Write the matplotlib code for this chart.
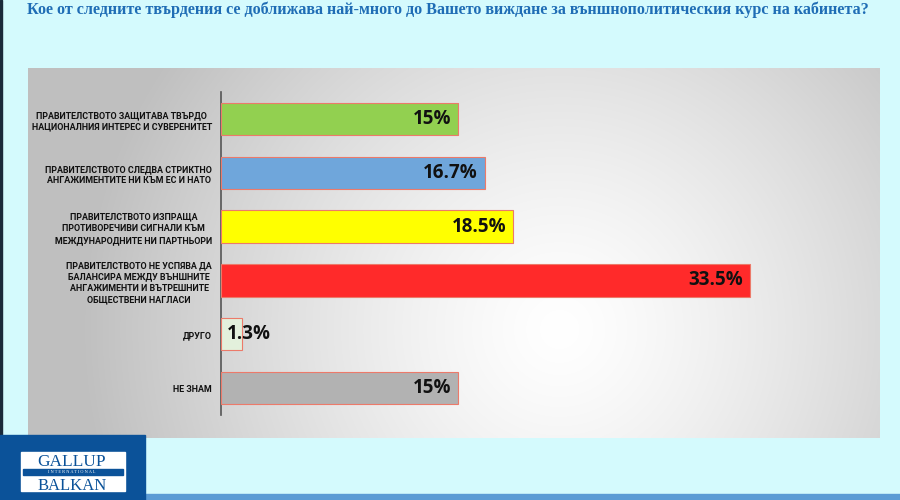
import numpy as np
import matplotlib
matplotlib.use("Agg")
import matplotlib.pyplot as plt
from matplotlib.patches import Rectangle

title = "Кое от следните твърдения се доближава най-много до Вашето виждане за външнополитическия курс на кабинета?"
categories = [
    "ПРАВИТЕЛСТВОТО ЗАЩИТАВА ТВЪРДО\nНАЦИОНАЛНИЯ ИНТЕРЕС И СУВЕРЕНИТЕТ",
    "ПРАВИТЕЛСТВОТО СЛЕДВА СТРИКТНО\nАНГАЖИМЕНТИТЕ НИ КЪМ ЕС И НАТО",
    "ПРАВИТЕЛСТВОТО ИЗПРАЩА\nПРОТИВОРЕЧИВИ СИГНАЛИ КЪМ\nМЕЖДУНАРОДНИТЕ НИ ПАРТНЬОРИ",
    "ПРАВИТЕЛСТВОТО НЕ УСПЯВА ДА\nБАЛАНСИРА МЕЖДУ ВЪНШНИТЕ\nАНГАЖИМЕНТИ И ВЪТРЕШНИТЕ\nОБЩЕСТВЕНИ НАГЛАСИ",
    "ДРУГО",
    "НЕ ЗНАМ",
]
values = [15, 16.7, 18.5, 33.5, 1.3, 15]
value_labels = ["15%", "16.7%", "18.5%", "33.5%", "1.3%", "15%"]
colors = ["#92d050", "#6fa6db", "#ffff00", "#ff2a2a", "#e3f0dc", "#b2b2b2"]

W, H = 900, 500
fig = plt.figure(figsize=(9, 5), dpi=100)
fig.patch.set_facecolor("#d4fafd")

# left dark border
fig.add_artist(Rectangle((0, 0), 2 / W, 1, transform=fig.transFigure, color="#1a2a3a", zorder=5))

# gradient panel
px0, py0, px1, py1 = 28, 68, 880, 438
bg = fig.add_axes([px0 / W, 1 - py1 / H, (px1 - px0) / W, (py1 - py0) / H])
nx, ny = 400, 180
xx, yy = np.meshgrid(np.linspace(px0, px1, nx), np.linspace(py0, py1, ny))
d = np.sqrt((xx - 560) ** 2 + (yy - 330) ** 2)
g = 1 - 0.25 * np.clip(d / 480, 0, 1) ** 1.3
img = np.dstack([g, g, g])
bg.imshow(img, aspect="auto", extent=[0, 1, 0, 1], interpolation="bilinear")
bg.set_axis_off()

# main axes
ax = fig.add_axes([221 / W, 1 - 415 / H, (853 - 221) / W, (415 - 92) / H])
ax.set_facecolor("none")
y = np.arange(len(categories))
ax.barh(y, values, height=0.6, color=colors, edgecolor="#ec7a6a", linewidth=0.8, zorder=3)
ax.set_xlim(0, 40)
ax.set_ylim(len(categories) - 0.5, -0.5)
ax.set_yticks(y)
ax.set_yticklabels(categories, fontsize=6.4, fontweight="bold", family="Roboto",
                   multialignment="center", color="#111111", linespacing=1.35)
ax.tick_params(axis="y", length=0, pad=6.5)
ax.set_xticks([])
for s in ["top", "right", "bottom"]:
    ax.spines[s].set_visible(False)
ax.spines["left"].set_color("#555555")
ax.spines["left"].set_linewidth(1.2)

for yi, v, lab in zip(y, values, value_labels):
    if v < 5:
        ax.text(0.4, yi, lab, ha="left", va="center", fontsize=13.5, fontweight="bold",
                family="Open Sans", color="#111111", zorder=4)
    else:
        ax.text(v - 0.45, yi, lab, ha="right", va="center", fontsize=13.5, fontweight="bold",
                family="Open Sans", color="#111111", zorder=4)

# title
fig.text(27 / W, 1 - 10 / H, title, ha="left", va="center", fontsize=11.6, fontweight="bold",
         family="Liberation Serif", color="#1f6db5")

# bottom strip
fig.add_artist(Rectangle((145 / W, 0), 1, 6 / H, transform=fig.transFigure, color="#5b9bd5", zorder=5))
# logo block
fig.add_artist(Rectangle((0, 0), 145 / W, 65 / H, transform=fig.transFigure, color="#0b5299", zorder=5))
fig.add_artist(Rectangle((21 / W, 1 - 491 / H), 104 / W, 39 / H, transform=fig.transFigure,
                         color="white", zorder=6))
fig.add_artist(Rectangle((23 / W, 1 - 475 / H), 100 / W, 6 / H, transform=fig.transFigure,
                         color="#0b5299", zorder=7))
fig.text(72 / W, 1 - 466 / H, "GALLUP", ha="center", va="baseline", fontsize=12.5,
         family="Liberation Serif", color="#0b5299", zorder=8)
fig.text(72 / W, 1 - 472 / H, "I N T E R N A T I O N A L", ha="center", va="center", fontsize=3.2,
         family="Liberation Serif", color="white", zorder=8)
fig.text(72 / W, 1 - 490 / H, "BALKAN", ha="center", va="baseline", fontsize=12,
         family="Liberation Serif", color="#0b5299", zorder=8)

fig.savefig("out.png", dpi=100, facecolor=fig.get_facecolor())
